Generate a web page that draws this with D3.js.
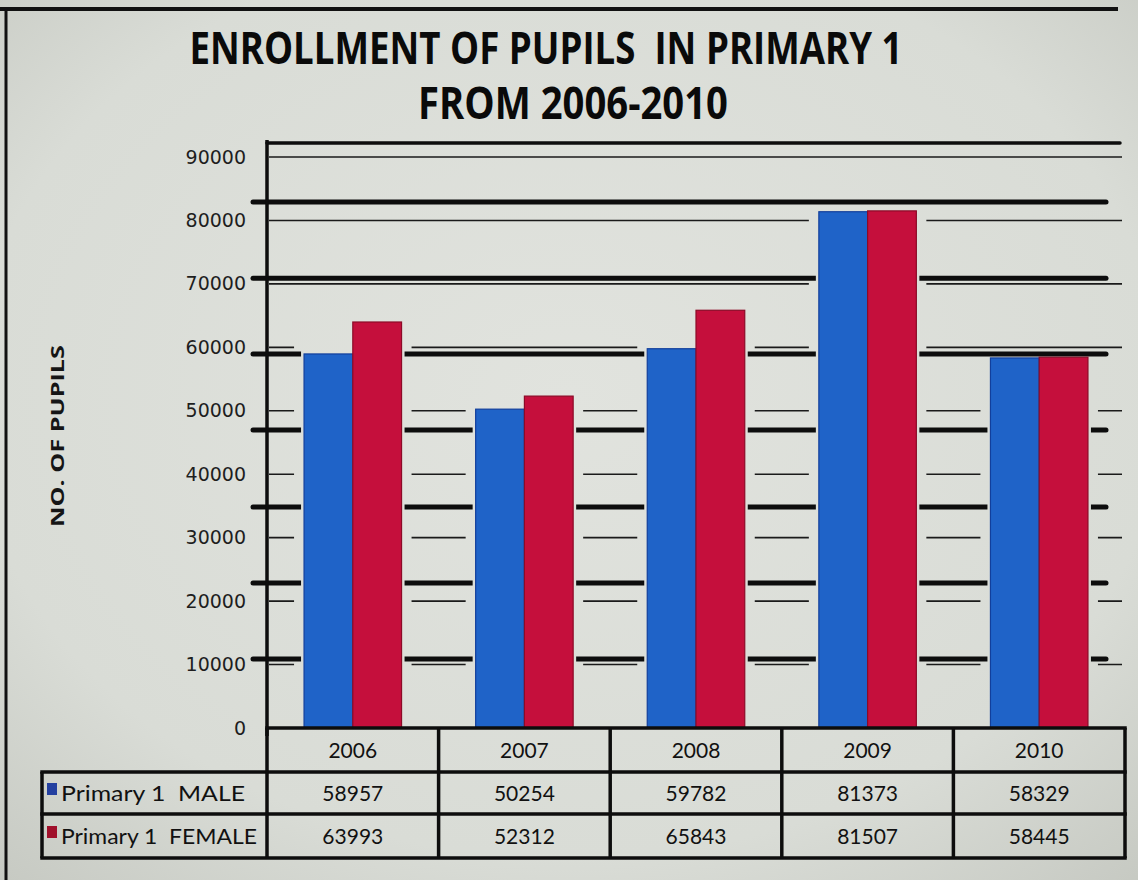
<!DOCTYPE html>
<html>
<head>
<meta charset="utf-8">
<script src="https://cdn.jsdelivr.net/npm/d3@7"></script>
<style>
  html, body { margin: 0; padding: 0; background: #d8dad4; }
  svg { display: block; }
  svg text { white-space: pre; }
</style>
</head>
<body>
<div id="chart"></div>
<script>
// data
const years = ['2006', '2007', '2008', '2009', '2010'];
const seriesNames = ['Primary 1  MALE', 'Primary 1  FEMALE'];
const maleValues = [58957, 50254, 59782, 81373, 58329];
const femaleValues = [63993, 52312, 65843, 81507, 58445];
const yTicks = [0, 10000, 20000, 30000, 40000, 50000, 60000, 70000, 80000, 90000];
// heavy ruled lines of the board the chart is pinned to, in value units
const boardLines = [92200, 82900, 70900, 58950, 46960, 34830, 22850, 10870];

const W = 1138, H = 880;
const seriesColor = { male: '#1f63c8', female: '#c50f3c' };
const seriesEdge = { male: '#123f9c', female: '#8c0a27' };
const keyColor = { male: '#2440a0', female: '#a0102b' };

const svg = d3.select('#chart').append('svg').attr('width', W).attr('height', H);
const defs = svg.append('defs');

const bg = defs.append('radialGradient').attr('id', 'paper').attr('cx', '50%').attr('cy', '45%').attr('r', '75%');
bg.append('stop').attr('offset', '0%').attr('stop-color', '#e1e3de');
bg.append('stop').attr('offset', '70%').attr('stop-color', '#d9dcd6');
bg.append('stop').attr('offset', '100%').attr('stop-color', '#c6c9c2');
svg.append('rect').attr('width', W).attr('height', H).attr('fill', 'url(#paper)');

// outer frame (left + top edges visible in photo)
svg.append('line').attr('x1', 0).attr('x2', 1118).attr('y1', 9).attr('y2', 9)
  .attr('stroke', '#111').attr('stroke-width', 4);
svg.append('line').attr('x1', 6).attr('x2', 6).attr('y1', 9).attr('y2', H)
  .attr('stroke', '#111').attr('stroke-width', 3);

const x = d3.scaleBand().domain(years).range([267, 1125]);
const bw = x.bandwidth();
const x1 = d3.scaleBand().domain(['male', 'female']).range([0, bw]).paddingOuter(0.76);
const y = d3.scaleLinear().domain([0, 90000]).range([728, 157]);

const rows = years.map((yr, i) => ({ year: yr, male: maleValues[i], female: femaleValues[i] }));
const bars = [];
rows.forEach(r => {
  bars.push({ year: r.year, key: 'male', value: r.male });
  bars.push({ year: r.year, key: 'female', value: r.female });
});

// masks to leave a gap in the lines around the bars
function makeMask(id, pad) {
  const m = defs.append('mask').attr('id', id).attr('maskUnits', 'userSpaceOnUse')
    .attr('x', 0).attr('y', 0).attr('width', W).attr('height', H);
  m.append('rect').attr('width', W).attr('height', H).attr('fill', '#fff');
  m.selectAll('rect.hole').data(rows).join('rect').attr('class', 'hole')
    .attr('x', d => x(d.year) + x1('male') - pad)
    .attr('y', d => y(Math.max(d.male, d.female)))
    .attr('width', x1.bandwidth() * 2 + pad * 2)
    .attr('height', d => y(0) - y(Math.max(d.male, d.female)) + 2)
    .attr('fill', '#000');
}
makeMask('gapThin', 10);
makeMask('gapThick', 3);

// chart gridlines (thin)
svg.append('g').attr('mask', 'url(#gapThin)')
  .selectAll('line').data(yTicks.filter(v => v > 0)).join('line')
  .attr('x1', 269).attr('x2', 1122)
  .attr('y1', d => y(d)).attr('y2', d => y(d))
  .attr('stroke', '#1a1a1a').attr('stroke-width', 1.6);

// board lines (thick)
svg.append('g').attr('mask', 'url(#gapThick)')
  .selectAll('line').data(boardLines).join('line')
  .attr('x1', (d, i) => i === 0 ? 267 : 253).attr('x2', (d, i) => i === 0 ? 1120 : 1106)
  .attr('y1', d => y(d)).attr('y2', d => y(d))
  .attr('stroke', '#0d0d0d').attr('stroke-width', (d, i) => i === 0 ? 3.5 : 5)
  .attr('stroke-linecap', 'round');

// bars
svg.append('g').selectAll('rect').data(bars).join('rect')
  .attr('x', d => x(d.year) + x1(d.key))
  .attr('y', d => y(d.value))
  .attr('width', x1.bandwidth())
  .attr('height', d => y(0) - y(d.value))
  .attr('fill', d => seriesColor[d.key])
  .attr('stroke', d => seriesEdge[d.key]).attr('stroke-width', 1.2);

// y axis
const yAxisG = svg.append('g').attr('transform', 'translate(267,0)')
  .call(d3.axisLeft(y).tickValues(yTicks).tickFormat(d3.format('d')).tickSize(0).tickPadding(21));
yAxisG.select('.domain').remove();
yAxisG.selectAll('text')
  .attr('font-family', "'DejaVu Sans', Verdana, sans-serif")
  .attr('font-size', 19).attr('fill', '#1e1e1e');
svg.append('line').attr('x1', 267).attr('x2', 267)
  .attr('y1', y(boardLines[0]) - 3).attr('y2', 736)
  .attr('stroke', '#0d0d0d').attr('stroke-width', 3.5);

svg.append('text')
  .attr('transform', 'translate(64,436) rotate(-90)')
  .attr('text-anchor', 'middle')
  .attr('font-family', "'Open Sans', sans-serif").attr('font-weight', 700)
  .attr('font-size', 17).attr('fill', '#151515')
  .attr('textLength', 182).attr('lengthAdjust', 'spacingAndGlyphs')
  .text('NO. OF PUPILS');

// title
const titleFont = "'Liberation Sans Narrow', 'Open Sans', sans-serif";
svg.append('text').attr('x', 546).attr('y', 64).attr('text-anchor', 'middle')
  .attr('font-family', titleFont).attr('font-weight', 700).attr('font-size', 44)
  .attr('fill', '#0a0a0a')
  .attr('textLength', 713).attr('lengthAdjust', 'spacingAndGlyphs')
  .text('ENROLLMENT OF PUPILS  IN PRIMARY 1');
svg.append('text').attr('x', 573).attr('y', 119).attr('text-anchor', 'middle')
  .attr('font-family', titleFont).attr('font-weight', 700).attr('font-size', 44)
  .attr('fill', '#0a0a0a')
  .attr('textLength', 310).attr('lengthAdjust', 'spacingAndGlyphs')
  .text('FROM 2006-2010');

// data table under the axis
const tableFont = "Lato, 'Open Sans', sans-serif";
const rowTop = [728, 772, 814];
const rowBottom = 858;
const labelLeft = 42;
const tableRight = x.range()[1];
const tbl = svg.append('g');
const stroke = '#0d0d0d';

// header row (years)
tbl.selectAll('text.year').data(years).join('text').attr('class', 'year')
  .attr('x', d => x(d) + bw / 2).attr('y', (rowTop[0] + rowTop[1]) / 2 + 8)
  .attr('text-anchor', 'middle')
  .attr('font-family', tableFont).attr('font-size', 21).attr('fill', '#111')
  .text(d => d);

// series rows
const seriesRows = [
  { key: 'male', name: seriesNames[0], values: maleValues, top: rowTop[1], bottom: rowTop[2], len: 184 },
  { key: 'female', name: seriesNames[1], values: femaleValues, top: rowTop[2], bottom: rowBottom, len: 196 }
];
seriesRows.forEach(r => {
  const mid = (r.top + r.bottom) / 2;
  tbl.append('rect').attr('x', labelLeft + 5).attr('y', mid - 10)
    .attr('width', 10).attr('height', 12).attr('fill', keyColor[r.key]);
  tbl.append('text').attr('x', labelLeft + 19).attr('y', mid + 8)
    .attr('font-family', tableFont).attr('font-size', 21).attr('fill', '#111')
    .attr('textLength', r.len).attr('lengthAdjust', 'spacingAndGlyphs')
    .text(r.name);
  tbl.selectAll(null).data(r.values).join('text')
    .attr('x', (d, i) => x(years[i]) + bw / 2).attr('y', mid + 8)
    .attr('text-anchor', 'middle')
    .attr('font-family', tableFont).attr('font-size', 21).attr('fill', '#111')
    .text(d => d);
});

// table rules
const hLines = [
  { x1: 267, x2: tableRight, y: rowTop[0] },
  { x1: labelLeft, x2: tableRight, y: rowTop[1] },
  { x1: labelLeft, x2: tableRight, y: rowTop[2] },
  { x1: labelLeft, x2: tableRight, y: rowBottom }
];
tbl.selectAll('line.h').data(hLines).join('line').attr('class', 'h')
  .attr('x1', d => d.x1).attr('x2', d => d.x2).attr('y1', d => d.y).attr('y2', d => d.y)
  .attr('stroke', stroke).attr('stroke-width', 3.5).attr('stroke-linecap', 'square');
const colEdges = years.map(yr => x(yr)).concat([tableRight]);
tbl.selectAll('line.v').data(colEdges).join('line').attr('class', 'v')
  .attr('x1', d => d).attr('x2', d => d).attr('y1', rowTop[0]).attr('y2', rowBottom)
  .attr('stroke', stroke).attr('stroke-width', 3.5);
tbl.append('line').attr('x1', labelLeft).attr('x2', labelLeft)
  .attr('y1', rowTop[1]).attr('y2', rowBottom)
  .attr('stroke', stroke).attr('stroke-width', 3.5);
</script>
</body>
</html>
